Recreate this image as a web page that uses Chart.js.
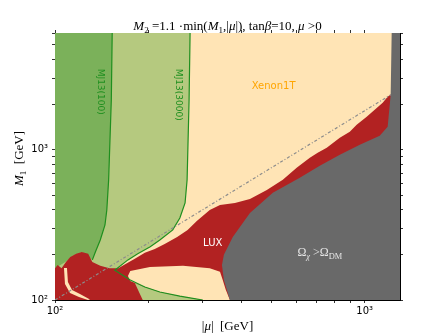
<!DOCTYPE html>
<html>
<head>
<meta charset="utf-8">
<script src="https://cdn.jsdelivr.net/npm/chart.js@4.4.0/dist/chart.umd.min.js"></script>
<style>
  html, body { margin: 0; padding: 0; background: #fff; }
  #wrap { width: 445px; height: 334px; }
</style>
</head>
<body>
<div id="wrap"><canvas id="chart" width="445" height="334"></canvas></div>
<script>
// axis ranges and ticks (|mu| and M1 in GeV)
const muRange = [100, 1300];
const m1Range = [100, 6000];
const muTicks = [100, 200, 300, 400, 500, 600, 700, 800, 900, 1000];
const m1Ticks = [100, 200, 300, 400, 500, 600, 700, 800, 900, 1000, 2000, 3000, 4000, 5000, 6000];

// monojet reach curves [mu, M1]
const mj3000Edge = [[273, 6000], [271, 2154], [267, 631], [263, 443], [253, 352], [240, 293], [218, 251],
  [203, 226], [185, 203], [172, 185], [156, 158], [175, 136], [195, 122], [218, 113], [253, 106], [300, 100]];
const mj100Edge = [[153, 6000], [152, 2154], [149, 631], [147, 398], [145, 316], [140, 251], [135, 209], [132, 185]];
const mj100Base = [[122, 209], [114, 197], [108, 179], [100, 163]];

// LUX excluded band (red)
const luxRegion = [[100, 100], [100, 163], [102, 171], [105, 163], [108.5, 179], [112, 193], [117, 203],
  [122, 209], [128, 203], [132, 179], [140, 169], [150, 163], [160, 163], [169, 174], [181, 188], [195, 206],
  [210, 219], [226, 236], [248, 263], [268, 293], [287, 336], [316, 398], [341, 430], [381, 443], [426, 471],
  [483, 541], [544, 631], [603, 759], [665, 885], [705, 955], [754, 1031], [831, 1202], [895, 1318],
  [942, 1468], [1015, 1660], [1077, 1849], [1143, 2058], [1186, 2256], [1222, 2362], [1250, 2362],
  [1250, 1000], [600, 400], [380, 100]];

// allowed pockets inside the LUX region
const xenonLobe = [[172, 144.5], [175, 156], [202.5, 166], [259, 169], [316, 163], [341, 154], [348, 136],
  [356, 117], [367, 100], [300, 100], [253, 106], [218, 113], [195, 122], [175, 134]];
const mjWedge = [[181, 130], [195, 122], [218, 113], [253, 106], [300, 100], [192, 100]];
const xenonStrip = [[106.9, 163.4], [109.3, 163.4], [110.1, 131.8], [113.5, 116.6], [120.4, 109.6],
  [129.7, 100.8], [127.8, 100], [119.5, 104.7], [111.8, 111.3], [107.7, 127.8]];

// overabundant relic density
const relicRegion = [[1222, 6000], [1213, 2327], [1186, 1424], [1118, 1240], [964, 1080], [831, 926],
  [716, 783], [617, 651], [505, 517], [426, 380], [375, 263], [351, 200], [346, 171], [351, 136], [367, 100],
  [1300, 100], [1300, 6000]];

const guideLine = [[100, 100], [1215, 2330]];

const toPts = (arr) => arr.map(([x, y]) => ({ x, y }));

function region(pts, color, order) {
  return {
    data: toPts(pts), showLine: true, fill: "shape", backgroundColor: color,
    borderColor: color, borderWidth: 0, pointRadius: 0, tension: 0, order,
  };
}

function curve(pts, color, width, dash, order) {
  return {
    data: toPts(pts), showLine: true, fill: false, borderColor: color, borderWidth: width,
    borderDash: dash, pointRadius: 0, tension: 0, order,
  };
}

const lineGreen = "#1f8f1f";

const datasets = [
  region([[muRange[0], m1Range[1]], ...mj3000Edge, [muRange[0], m1Range[0]]], "#B5C97F", 20),
  region([[muRange[0], m1Range[1]], ...mj100Edge, ...mj100Base], "#7BB15A", 19),
  region(luxRegion, "#B22222", 18),
  region(xenonLobe, "#FFE4B5", 17),
  region(mjWedge, "#B5C97F", 16),
  region(xenonStrip, "#FFE4B5", 15),
  region(relicRegion, "#696969", 14),
  curve(mj3000Edge, lineGreen, 1.2, [], 13),
  curve(mj100Edge, lineGreen, 1.2, [], 12),
  curve(guideLine, "#8c8c8c", 1.2, [3, 2, 1, 2], 11),
];

// draw text made of runs (italic / subscript pieces)
function drawRuns(ctx, runs, x, y, base, family, color) {
  const fontOf = (r) => `${r.it ? "italic " : ""}${r.sub ? base * 0.7 : base}px ${family}`;
  let total = 0;
  runs.forEach((r) => { ctx.font = fontOf(r); total += ctx.measureText(r.t).width; });
  let cx = x - total / 2;
  ctx.fillStyle = color;
  ctx.textAlign = "left";
  ctx.textBaseline = "alphabetic";
  runs.forEach((r) => {
    ctx.font = fontOf(r);
    ctx.fillText(r.t, cx, y + (r.sub ? base * 0.25 : 0));
    cx += ctx.measureText(r.t).width;
  });
}

const serif = "'Liberation Serif', 'DejaVu Serif', serif";

const decorations = {
  id: "decorations",
  beforeDatasetsDraw(chart) {
    const { ctx, chartArea: a } = chart;
    ctx.save();
    ctx.fillStyle = "#FFE4B5";
    ctx.fillRect(a.left, a.top, a.right - a.left, a.bottom - a.top);
    ctx.restore();
  },
  afterDatasetsDraw(chart) {
    const { ctx, chartArea: a, scales } = chart;
    const px = (mu) => scales.x.getPixelForValue(mu);
    const py = (m1) => scales.y.getPixelForValue(m1);
    ctx.save();
    ctx.textAlign = "center";
    ctx.textBaseline = "middle";
    ctx.font = "10px 'DejaVu Sans'";
    ctx.fillStyle = "#FFA500";
    ctx.fillText("Xenon1T", px(508), py(2630));
    ctx.fillStyle = "#ffffff";
    ctx.fillText("LUX", px(323), py(240));

    ctx.font = "9px 'DejaVu Sans'";
    ctx.fillStyle = lineGreen;
    [["MJ13(100)", 140.6, 2437], ["MJ13(3000)", 251, 2327]].forEach(([t, mu, m1]) => {
      ctx.save();
      ctx.translate(px(mu), py(m1));
      ctx.rotate(Math.PI / 2);
      ctx.fillText(t, 0, 0);
      ctx.restore();
    });

    drawRuns(ctx, [{ t: "Ω" }, { t: "χ", it: true, sub: true }, { t: " >" }, { t: "Ω" }, { t: "DM", sub: true }],
      px(716), py(209) + 4, 12, serif, "#e6e6e6");

    // title
    const cx = (a.left + a.right) / 2;
    drawRuns(ctx, [
      { t: "M", it: true }, { t: "2", sub: true }, { t: " =1.1 ·min(" }, { t: "M", it: true }, { t: "1", sub: true },
      { t: ",|" }, { t: "μ", it: true }, { t: "|), tan" }, { t: "β", it: true }, { t: "=10, " },
      { t: "μ", it: true }, { t: " >0" },
    ], cx, 29.5, 13, serif, "#000");

    // axis titles
    drawRuns(ctx, [{ t: "|" }, { t: "μ", it: true }, { t: "|  [GeV]" }], cx, 330, 13, serif, "#000");
    ctx.save();
    ctx.translate(23, (a.top + a.bottom) / 2 - 8);
    ctx.rotate(-Math.PI / 2);
    drawRuns(ctx, [{ t: "M", it: true }, { t: "1", sub: true }, { t: "  [GeV]" }], 0, 0, 13, serif, "#000");
    ctx.restore();
    ctx.restore();
  },
};

const tickLabel = (v) => (v === 100 ? "10²" : v === 1000 ? "10³" : "");

function logAxis(position, range, ticks, size, showLabels) {
  const horizontal = position === "bottom" || position === "top";
  return {
    type: "logarithmic",
    position,
    min: range[0],
    max: range[1],
    grid: { drawOnChartArea: false, color: "#000", tickLength: 3, tickWidth: 0.8 },
    border: { display: true, color: "#000", width: 1 },
    ticks: {
      display: showLabels,
      autoSkip: false,
      maxRotation: 0,
      minRotation: 0,
      padding: horizontal ? 2 : 4,
      color: "#000",
      font: { family: "'DejaVu Sans'", size: 10 },
      callback: tickLabel,
    },
    afterBuildTicks: (s) => { s.ticks = ticks.map((v) => ({ value: v })); },
    afterFit: (s) => { if (horizontal) s.height = size; else s.width = size; },
  };
}

new Chart(document.getElementById("chart"), {
  type: "scatter",
  data: { datasets },
  options: {
    responsive: false,
    animation: false,
    layout: { padding: 0 },
    plugins: { legend: { display: false }, tooltip: { enabled: false }, title: { display: false } },
    scales: {
      x: logAxis("bottom", muRange, muTicks, 34, true),
      y: logAxis("left", m1Range, m1Ticks, 55, true),
      x2: logAxis("top", muRange, muTicks, 33, false),
      y2: logAxis("right", m1Range, m1Ticks, 45, false),
    },
  },
  plugins: [decorations],
});
</script>
</body>
</html>
